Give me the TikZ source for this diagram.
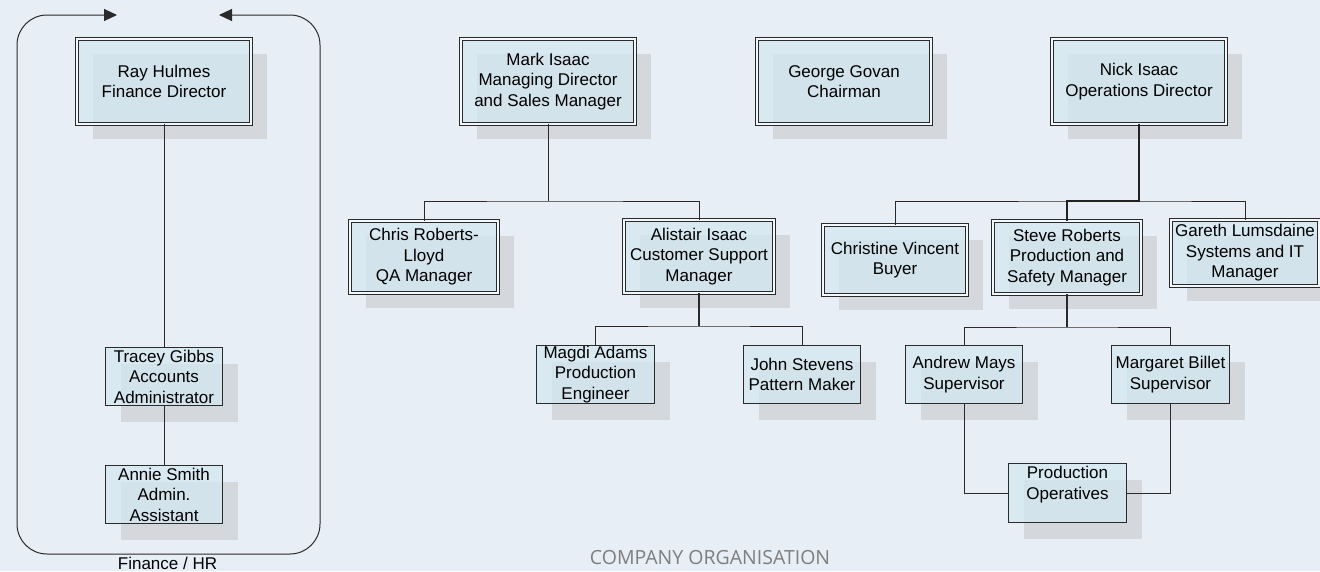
\documentclass[tikz,border=0pt]{standalone}
\usepackage{fontspec}
\setmainfont{Liberation Sans}
\newfontfamily\titlefont{Open Sans}
\usetikzlibrary{shadows,arrows.meta}

\definecolor{bgc}{HTML}{E8EEF6}
\definecolor{boxfill}{HTML}{D3E8F1}
\definecolor{shadowc}{HTML}{D4D8DD}
\definecolor{linec}{HTML}{2A2A2A}
\definecolor{titlec}{HTML}{7E7E7E}

\tikzset{
  x=1pt, y=-1pt,
  boxbase/.style={rectangle, inner sep=0pt, align=center,
    font=\fontsize{17}{20.5}\selectfont,
    fill=boxfill, fill opacity=0.72, text opacity=1},
  dbox/.style={boxbase, draw=linec, line width=0.9pt, double=white!70!boxfill,
    double distance=1.8pt,
    drop shadow={shadow xshift=16pt, shadow yshift=-15pt, fill=shadowc, opacity=1}},
  sbox/.style={boxbase, draw=linec, line width=1pt,
    drop shadow={shadow xshift=15pt, shadow yshift=-16pt, fill=shadowc, opacity=1}},
  link/.style={draw=linec, line width=1pt},
  mainlink/.style={draw=linec, line width=1.6pt},
  spine/.style={draw=linec!80!black, line width=2.2pt},
  frametip/.tip={Triangle[length=13pt,width=12pt]},
}

\begin{document}
\begin{tikzpicture}
  % page area and background
  \useasboundingbox (0,0) rectangle (1320,571);
  \fill[bgc] (0,0) rectangle (1320,571);

  % Finance / HR group frame
  \coordinate (fl) at (117,15);
  \coordinate (fr) at (219,15);
  \draw[draw=linec, line width=1pt, rounded corners=30pt, frametip-frametip]
    (fl) -- (17,15) -- (17,554) -- (320,554) -- (320,15) -- (fr);
  \node[font=\fontsize{17}{20}\selectfont] (fhr) at (167.5,563) {Finance / HR};

  % top level
  \node[dbox, minimum width=174pt, minimum height=85pt] (ray) at (164,81.5)
    {Ray Hulmes\\Finance Director};
  \node[dbox, minimum width=174pt, minimum height=85pt] (mark) at (548,81.5)
    {Mark Isaac\\Managing Director\\and Sales Manager};
  \node[dbox, minimum width=174pt, minimum height=85pt] (george) at (844,81.5)
    {George Govan\\Chairman};
  \node[dbox, minimum width=174pt, minimum height=85pt] (nick) at (1139,81.5)
    {Nick Isaac\\Operations Director};

  % second level
  \node[dbox, minimum width=148pt, minimum height=72pt] (chris) at (424,257)
    {Chris Roberts-\\Lloyd\\QA Manager};
  \node[dbox, minimum width=150pt, minimum height=73pt] (alistair) at (699,256.5)
    {Alistair Isaac\\Customer Support\\Manager};
  \node[dbox, minimum width=144pt, minimum height=70pt] (christine) at (895,260)
    {Christine Vincent\\Buyer};
  \node[dbox, minimum width=148pt, minimum height=73pt] (steve) at (1067,257.5)
    {Steve Roberts\\Production and\\Safety Manager};
  \node[dbox, minimum width=148pt, minimum height=66pt] (gareth) at (1245,253)
    {Gareth Lumsdaine\\Systems and IT\\Manager};

  % third level
  \node[sbox, minimum width=118pt, minimum height=58pt] (magdi) at (595.5,374.5)
    {Magdi Adams\\Production\\Engineer};
  \node[sbox, minimum width=117pt, minimum height=58pt] (john) at (802,374.5)
    {John Stevens\\Pattern Maker};
  \node[sbox, minimum width=117pt, minimum height=58pt] (andrew) at (964,374.5)
    {Andrew Mays\\Supervisor};
  \node[sbox, minimum width=118pt, minimum height=58pt] (margaret) at (1170.5,374.5)
    {Margaret Billet\\Supervisor};
  \node[sbox, minimum width=118pt, minimum height=59pt] (prod) at (1067.5,493)
    {Production\\Operatives\\\mbox{}};

  % finance staff
  \node[sbox, minimum width=117pt, minimum height=58pt] (tracey) at (164,376.5)
    {Tracey Gibbs\\Accounts\\Administrator};
  \node[sbox, minimum width=117pt, minimum height=58pt] (annie) at (164,494.5)
    {Annie Smith\\Admin.\\Assistant};

  % junctions
  \coordinate (mj) at (548,201);
  \coordinate (nj) at (1139,201);
  \coordinate (aj) at (699,326);
  \coordinate (sj) at (1067,327);

  % connectors
  \draw[link] (ray) -- (tracey);
  \draw[link] (tracey) -- (annie);

  \draw[link] (mark) -- (mj);
  \draw[link] (chris.north) |- (mj) -| (alistair.north);

  \draw[link] (christine.north) |- (nj) -| (gareth.north);
  \draw[spine] (nick.south) -- (nj) -| (steve.north);

  \draw[mainlink] (alistair.south) -- (aj);
  \draw[link] (magdi.north) |- (aj) -| (john.north);

  \draw[mainlink] (steve.south) -- (sj);
  \draw[link] (andrew.north) |- (sj) -| (margaret.north);

  \draw[link] (andrew.south) |- (prod.west);
  \draw[link] (margaret.south) |- (prod.east);

  % caption
  \node[font=\titlefont\fontsize{19.5}{22}\selectfont, text=titlec] (title) at (710,558)
    {COMPANY ORGANISATION};
\end{tikzpicture}
\end{document}
